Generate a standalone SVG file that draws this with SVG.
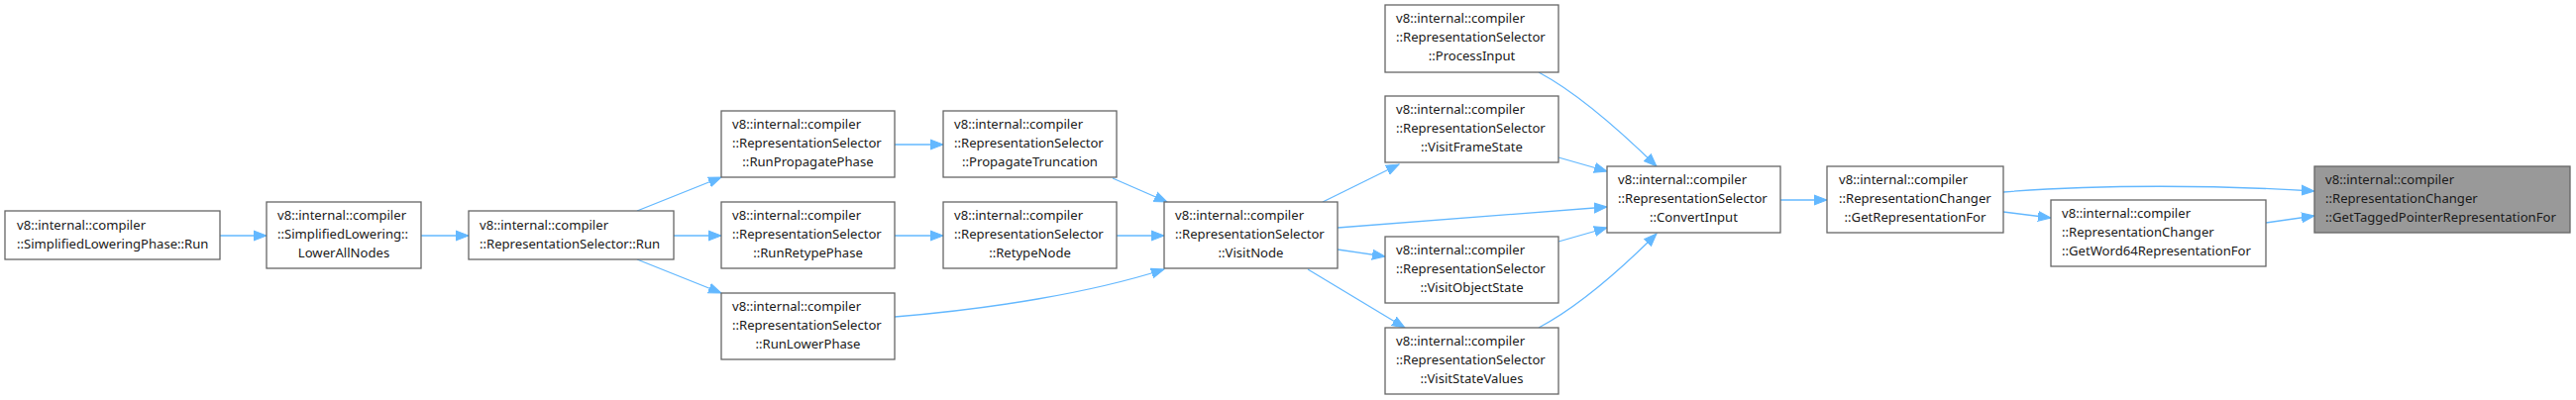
<svg xmlns="http://www.w3.org/2000/svg" width="2600" height="404" viewBox="0 0 2600 404">
<style>
.n rect{fill:#ffffff;stroke:#666666;stroke-width:1.3}
.n.sel rect{fill:#999999}
text{font-family:"Noto Sans","Open Sans","DejaVu Sans",sans-serif;font-size:13.1px;fill:#1a1a1a}
.m{text-anchor:middle}
.e{fill:none;stroke:#63b8ff;stroke-width:1.3;marker-end:url(#ah)}
</style>
<defs>
<marker id="ah" markerUnits="userSpaceOnUse" markerWidth="14" markerHeight="12" viewBox="0 -6 14 12" refX="13" refY="0" orient="auto">
<path d="M0,-5 L13,0 L0,5 z" fill="#63b8ff" stroke="#63b8ff" stroke-width="1"/>
</marker>
</defs>
<rect width="2600" height="404" fill="#ffffff"/>
<g id="connectors">
<path class="e" d="M222,238 L269,238"/>
<path class="e" d="M425,238 L473,238"/>
<path class="e" d="M643,213 L728,179"/>
<path class="e" d="M680,238 L728,238"/>
<path class="e" d="M643,262 L728,296"/>
<path class="e" d="M903,146 L952,146"/>
<path class="e" d="M903,238 L952,238"/>
<path class="e" d="M903,320 C1000,312 1100,296 1175,272"/>
<path class="e" d="M1123,180 L1178,204"/>
<path class="e" d="M1127,238 L1175,238"/>
<path class="e" d="M1335,204 L1412,166"/>
<path class="e" d="M1350,230 L1622,209"/>
<path class="e" d="M1350,252 L1398,259"/>
<path class="e" d="M1320,272 L1418,331"/>
<path class="e" d="M1553,73 C1585,90 1625,122 1672,168"/>
<path class="e" d="M1573,159 L1622,173"/>
<path class="e" d="M1573,244 L1622,230"/>
<path class="e" d="M1553,331 C1585,314 1625,283 1672,236"/>
<path class="e" d="M1797,202 L1844,202"/>
<path class="e" d="M2022,194 C2120,186 2240,187 2336,193"/>
<path class="e" d="M2022,214 L2070,220"/>
<path class="e" d="M2287,225 L2336,218"/>
</g>
<g id="n1" class="n"><rect x="5" y="213" width="217" height="49"/>
<text x="17" y="232">v8::internal::compiler</text><text x="17" y="251">::SimplifiedLoweringPhase::Run</text></g>
<g id="n2" class="n"><rect x="269" y="204" width="156" height="67"/>
<text x="280" y="222">v8::internal::compiler</text><text x="280" y="241">::SimplifiedLowering::</text><text class="m" x="347" y="260">LowerAllNodes</text></g>
<g id="n3" class="n"><rect x="473" y="213" width="207" height="49"/>
<text x="484" y="232">v8::internal::compiler</text><text x="484" y="251">::RepresentationSelector::Run</text></g>
<g id="n4" class="n"><rect x="728" y="112" width="175" height="67"/>
<text x="739" y="130">v8::internal::compiler</text><text x="739" y="149">::RepresentationSelector</text><text class="m" x="815.5" y="168">::RunPropagatePhase</text></g>
<g id="n5" class="n"><rect x="728" y="204" width="175" height="67"/>
<text x="739" y="222">v8::internal::compiler</text><text x="739" y="241">::RepresentationSelector</text><text class="m" x="815.5" y="260">::RunRetypePhase</text></g>
<g id="n6" class="n"><rect x="728" y="296" width="175" height="67"/>
<text x="739" y="314">v8::internal::compiler</text><text x="739" y="333">::RepresentationSelector</text><text class="m" x="815.5" y="352">::RunLowerPhase</text></g>
<g id="n7" class="n"><rect x="952" y="112" width="175" height="67"/>
<text x="963" y="130">v8::internal::compiler</text><text x="963" y="149">::RepresentationSelector</text><text class="m" x="1039.5" y="168">::PropagateTruncation</text></g>
<g id="n8" class="n"><rect x="952" y="204" width="175" height="67"/>
<text x="963" y="222">v8::internal::compiler</text><text x="963" y="241">::RepresentationSelector</text><text class="m" x="1039.5" y="260">::RetypeNode</text></g>
<g id="n9" class="n"><rect x="1175" y="204" width="175" height="67"/>
<text x="1186" y="222">v8::internal::compiler</text><text x="1186" y="241">::RepresentationSelector</text><text class="m" x="1262.5" y="260">::VisitNode</text></g>
<g id="n10" class="n"><rect x="1398" y="5" width="175" height="68"/>
<text x="1409" y="23">v8::internal::compiler</text><text x="1409" y="42">::RepresentationSelector</text><text class="m" x="1485.5" y="61">::ProcessInput</text></g>
<g id="n11" class="n"><rect x="1398" y="97" width="175" height="67"/>
<text x="1409" y="115">v8::internal::compiler</text><text x="1409" y="134">::RepresentationSelector</text><text class="m" x="1485.5" y="153">::VisitFrameState</text></g>
<g id="n12" class="n"><rect x="1398" y="239" width="175" height="67"/>
<text x="1409" y="257">v8::internal::compiler</text><text x="1409" y="276">::RepresentationSelector</text><text class="m" x="1485.5" y="295">::VisitObjectState</text></g>
<g id="n13" class="n"><rect x="1398" y="331" width="175" height="67"/>
<text x="1409" y="349">v8::internal::compiler</text><text x="1409" y="368">::RepresentationSelector</text><text class="m" x="1485.5" y="387">::VisitStateValues</text></g>
<g id="n14" class="n"><rect x="1622" y="168" width="175" height="67"/>
<text x="1633" y="186">v8::internal::compiler</text><text x="1633" y="205">::RepresentationSelector</text><text class="m" x="1709.5" y="224">::ConvertInput</text></g>
<g id="n15" class="n"><rect x="1844" y="168" width="178" height="67"/>
<text x="1856" y="186">v8::internal::compiler</text><text x="1856" y="205">::RepresentationChanger</text><text class="m" x="1933" y="224">::GetRepresentationFor</text></g>
<g id="n16" class="n"><rect x="2070" y="202" width="217" height="67"/>
<text x="2081" y="220">v8::internal::compiler</text><text x="2081" y="239">::RepresentationChanger</text><text x="2081" y="258">::GetWord64RepresentationFor</text></g>
<g id="n17" class="n sel"><rect x="2336" y="168" width="258" height="67"/>
<text x="2347" y="186">v8::internal::compiler</text><text x="2347" y="205">::RepresentationChanger</text><text x="2347" y="224">::GetTaggedPointerRepresentationFor</text></g>
</svg>
